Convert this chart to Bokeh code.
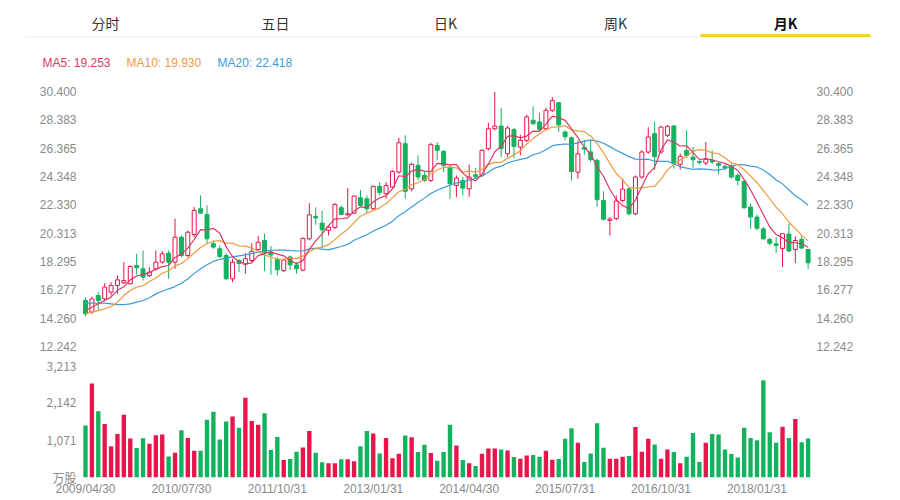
from bokeh.plotting import figure
from bokeh.models import Range1d, LinearAxis, FixedTicker, ColumnDataSource, NumeralTickFormatter
from bokeh.core.properties import value
from bokeh.embed import file_html
from bokeh.resources import INLINE
import pandas as pd

# ---------------- data ----------------
tabs = ["分时", "五日", "日K", "周K", "月K"]
active_tab = "月K"
ma_names = ["MA5", "MA10", "MA20"]
ma_last = [19.253, 19.930, 22.418]

opens = [15.52, 14.69, 15.87, 15.63, 16.11, 16.59, 16.78, 16.71, 18.01, 17.77,
         17.30, 17.77, 18.25, 18.89, 18.25, 20.03, 18.72, 20.22, 22.05, 21.65,
         19.56, 19.20, 18.72, 17.06, 18.37, 18.10, 18.37, 19.15, 19.79, 18.96,
         18.45, 17.65, 18.62, 18.05, 17.68, 19.91, 21.51, 21.03, 20.52, 20.72,
         22.12, 21.62, 21.74, 22.83, 22.76, 22.05, 23.65, 23.12, 23.59, 24.66,
         26.68, 23.47, 25.14, 24.43, 24.07, 26.56, 26.14, 25.02, 23.71, 24.07,
         23.47, 24.47, 24.43, 26.33, 27.75, 27.94, 25.97, 27.68, 26.44, 26.92,
         28.35, 28.23, 27.75, 29.06, 29.60, 27.52, 27.10, 24.65, 26.40, 26.10,
         25.50, 22.64, 21.22, 21.35, 22.64, 23.47, 21.69, 24.31, 26.09, 27.40,
         26.09, 27.28, 27.95, 25.21, 26.21, 25.73, 25.42, 25.31, 25.50, 25.26,
         25.07, 25.07, 24.43, 24.00, 22.17, 21.46, 20.62, 19.86, 19.55, 19.22,
         20.25, 19.15, 19.86, 19.15]
highs = [15.75, 15.80, 16.11, 16.75, 16.82, 17.30, 18.25, 18.01, 18.84, 19.08,
         17.89, 19.08, 19.03, 19.08, 21.34, 20.15, 20.50, 22.17, 23.00, 22.29,
         19.79, 19.44, 18.89, 18.49, 18.49, 18.90, 19.60, 20.10, 20.27, 19.40,
         18.60, 18.49, 18.72, 18.25, 20.00, 22.45, 22.15, 21.90, 20.86, 22.45,
         22.29, 23.52, 23.00, 23.40, 23.00, 23.71, 23.95, 23.95, 24.78, 27.11,
         27.28, 25.33, 25.85, 24.71, 26.75, 26.80, 26.21, 25.14, 24.43, 24.31,
         25.19, 24.95, 26.28, 28.18, 30.37, 29.23, 27.94, 27.80, 27.33, 28.75,
         29.35, 28.88, 29.25, 30.01, 29.65, 27.63, 27.20, 26.92, 26.95, 26.92,
         25.60, 23.29, 21.46, 23.00, 24.20, 23.59, 24.43, 26.21, 27.85, 28.25,
         27.95, 28.00, 27.99, 26.00, 27.63, 26.45, 25.50, 26.80, 26.21, 25.38,
         25.21, 25.26, 24.55, 24.12, 22.41, 21.65, 20.74, 19.98, 20.03, 20.31,
         20.98, 20.08, 20.12, 19.20]
lows = [14.38, 14.57, 14.80, 15.47, 15.87, 15.99, 16.70, 16.66, 17.37, 16.94,
        17.18, 17.65, 18.13, 17.06, 17.77, 18.60, 18.60, 20.03, 21.69, 19.56,
        19.20, 18.56, 16.99, 16.82, 17.54, 17.42, 18.25, 19.08, 17.60, 17.35,
        17.30, 17.54, 17.70, 17.42, 17.60, 19.80, 20.90, 19.25, 20.15, 20.62,
        21.58, 21.55, 21.69, 22.22, 21.69, 21.93, 23.00, 22.76, 23.47, 24.54,
        22.76, 23.29, 24.07, 23.95, 23.95, 25.50, 24.66, 22.76, 22.88, 23.00,
        22.88, 24.19, 24.31, 26.21, 27.63, 25.73, 25.73, 25.66, 25.85, 26.80,
        28.00, 27.60, 27.63, 28.94, 27.51, 26.92, 24.07, 24.19, 25.90, 25.38,
        22.20, 21.22, 20.15, 21.22, 22.52, 21.58, 21.60, 24.19, 25.97, 24.80,
        25.97, 27.16, 24.90, 24.83, 25.69, 24.97, 25.20, 25.14, 25.26, 24.50,
        24.78, 24.19, 23.71, 22.05, 20.62, 20.50, 19.84, 19.44, 18.89, 17.89,
        18.96, 18.18, 19.20, 17.77]
closes = [14.57, 15.63, 15.52, 16.47, 16.59, 16.99, 16.94, 17.94, 17.85, 17.18,
          17.54, 18.25, 18.84, 18.25, 20.03, 18.72, 20.38, 21.93, 21.74, 19.91,
          19.32, 18.65, 17.06, 18.25, 18.15, 18.49, 19.02, 19.67, 18.96, 18.76,
          17.70, 18.40, 18.05, 17.77, 19.95, 21.62, 21.40, 20.55, 20.74, 22.36,
          21.65, 21.70, 22.95, 22.29, 22.05, 23.64, 23.20, 23.71, 24.71, 26.75,
          23.29, 25.21, 24.31, 24.07, 26.61, 26.21, 25.14, 23.83, 24.24, 23.52,
          24.31, 24.33, 26.21, 27.75, 27.94, 26.33, 27.80, 26.49, 26.92, 28.59,
          28.11, 27.70, 29.06, 29.75, 28.02, 27.18, 24.70, 25.96, 26.30, 25.56,
          22.70, 21.30, 21.32, 22.60, 23.45, 21.69, 24.31, 26.09, 27.16, 25.76,
          27.87, 27.92, 25.26, 25.78, 25.85, 25.54, 25.35, 25.57, 25.38, 25.14,
          24.97, 24.31, 24.07, 22.12, 21.46, 20.67, 19.91, 19.60, 19.44, 20.27,
          19.05, 19.79, 19.25, 18.20]
volumes = [1469, 2650, 1870, 1507, 884, 1228, 1767, 1097, 828, 1107,
           949, 1190, 1209, 595, 698, 1330, 1116, 753, 753, 1628,
           1851, 1070, 1581, 1720, 1404, 2251, 1590, 1488, 1814, 772,
           1144, 493, 521, 725, 846, 1311, 698, 428, 400, 400,
           512, 512, 456, 884, 1311, 1237, 679, 1116, 540, 670,
           1181, 1135, 716, 921, 688, 474, 716, 1488, 902, 493,
           400, 326, 670, 819, 819, 791, 763, 577, 530, 623,
           633, 586, 754, 502, 521, 1089, 1386, 977, 437, 679,
           1530, 838, 530, 530, 587, 605, 1425, 727, 1089, 930,
           530, 791, 717, 400, 587, 1257, 438, 977, 1228, 1209,
           791, 660, 567, 1405, 1116, 1051, 2744, 1274, 977, 1432,
           1116, 1646, 995, 1097]

# moving-average values at the start of the chart (history before the first month)
ma5_head = [14.80, 15.04, 15.28, 15.52]
ma10_head = [14.57, 14.69, 14.80, 14.92, 15.09, 15.40, 15.87, 16.23, 16.47]
ma20_head = [15.33, 15.33, 15.33, 15.33, 15.28, 15.23, 15.23, 15.28, 15.40, 15.52,
             15.71, 15.99, 16.18, 16.35, 16.51, 16.75, 17.05, 17.45, 17.78]

price_ticks = [12.242, 14.260, 16.277, 18.295, 20.313, 22.330, 24.348, 26.365, 28.383, 30.400]
vol_ticks = [0, 1071, 2142, 3213]
vol_unit = "万股"
date_ticks = [0, 15, 30, 45, 60, 75, 90, 105]
date_labels = ["2009/04/30", "2010/07/30", "2011/10/31", "2013/01/31",
               "2014/04/30", "2015/07/31", "2016/10/31", "2018/01/31"]

# ---------------- derived ----------------
n = len(closes)
idx = list(range(n))
s = pd.Series(closes)


def moving_avg(win, head):
    m = s.rolling(win).mean().tolist()
    return [head[i] if i < len(head) else m[i] for i in range(n)]


ma5 = moving_avg(5, ma5_head)
ma10 = moving_avg(10, ma10_head)
ma20 = moving_avg(20, ma20_head)

RED = "#e6154a"
GREEN = "#14b25e"
C_MA5 = "#d93a63"
C_MA10 = "#f09a3c"
C_MA20 = "#3d9bd9"
LABEL = "#8a8a8a"
NUMFONT = "Liberation Sans"
CJK = "Noto Sans CJK SC"

up = [c >= o for o, c in zip(opens, closes)]
src = ColumnDataSource(dict(
    x=idx, high=highs, low=lows,
    top=[max(o, c) for o, c in zip(opens, closes)],
    bottom=[min(o, c) for o, c in zip(opens, closes)],
    color=[RED if u else GREEN for u in up],
    fill=["#ffffff" if u else GREEN for u in up],
    vol=volumes,
))

W = 900
XR = (-0.78, 113.53)


def base(height, **kw):
    p = figure(width=W, height=height, output_backend="svg", toolbar_location=None,
               min_border_left=80, min_border_right=89, **kw)
    p.xgrid.visible = False
    p.ygrid.visible = False
    p.outline_line_color = None
    p.background_fill_color = "white"
    p.border_fill_color = "white"
    return p


def style_axis(ax, font=NUMFONT):
    ax.axis_line_color = None
    ax.major_tick_line_color = None
    ax.minor_tick_line_color = None
    ax.major_tick_out = 0
    ax.major_tick_in = 0
    ax.major_label_text_color = LABEL
    ax.major_label_text_font = font
    ax.major_label_text_font_size = "12px"


# ---------------- header (page pixel coordinates) ----------------
hdr = figure(width=W, height=80, output_backend="svg", toolbar_location=None,
             x_range=Range1d(0, W), y_range=Range1d(80, 0),
             x_axis_location=None, y_axis_location=None, min_border=0)
hdr.xgrid.visible = False
hdr.ygrid.visible = False
hdr.outline_line_color = None
tab_x = [105 + 170 * i for i in range(len(tabs))]
hdr.segment(x0=[25], y0=[36.5], x1=[870], y1=[36.5], line_color="#ededed", line_width=1)
ai = tabs.index(active_tab)
hdr.segment(x0=[tab_x[ai] - 85], y0=[35], x1=[tab_x[ai] + 85], y1=[35],
            line_color="#f6d12c", line_width=3)
others = [i for i in range(len(tabs)) if i != ai]
hdr.text(x=[tab_x[i] for i in others], y=[22] * len(others), text=[tabs[i] for i in others],
         text_align="center", text_baseline="middle", text_color="#333333",
         text_font=value(CJK), text_font_size="14px")
hdr.text(x=[tab_x[ai]], y=[22], text=[active_tab], text_align="center", text_baseline="middle",
         text_color="#111111", text_font=value(CJK), text_font_size="14px", text_font_style="bold")
leg_x = [42, 126, 217]
leg_c = [C_MA5, C_MA10, C_MA20]
hdr.text(x=leg_x, y=[62] * 3, text=[f"{nm}: {v:.3f}" for nm, v in zip(ma_names, ma_last)],
         text_align="left", text_baseline="middle", text_color=leg_c,
         text_font=value(NUMFONT), text_font_size="12px")

# ---------------- price ----------------
price = base(276, x_range=Range1d(*XR), y_range=Range1d(price_ticks[0], price_ticks[-1]),
             x_axis_location=None, min_border_top=11, min_border_bottom=10)
price.segment(x0="x", y0="high", x1="x", y1="low", line_color="color", line_width=1, source=src)
price.vbar(x="x", width=0.62, top="top", bottom="bottom", fill_color="fill",
           line_color="color", line_width=1, source=src)
price.line(idx, ma20, line_color=C_MA20, line_width=1.2)
price.line(idx, ma10, line_color=C_MA10, line_width=1.2)
price.line(idx, ma5, line_color=C_MA5, line_width=1.2)
price.yaxis.ticker = FixedTicker(ticks=price_ticks)
price.yaxis.formatter = NumeralTickFormatter(format="0.000")
price.yaxis.major_label_standoff = 4
style_axis(price.yaxis[0])
rax = LinearAxis(ticker=FixedTicker(ticks=price_ticks), formatter=NumeralTickFormatter(format="0.000"))
rax.major_label_standoff = 5
style_axis(rax)
price.add_layout(rax, "right")

# ---------------- volume ----------------
vol = base(142, x_range=price.x_range, y_range=Range1d(0, vol_ticks[-1]),
           min_border_top=7, min_border_bottom=20)
vol.vbar(x="x", width=0.68, top="vol", bottom=0, fill_color="color", line_color=None, source=src)
vol.yaxis.ticker = FixedTicker(ticks=vol_ticks)
vol.yaxis.formatter = NumeralTickFormatter(format="0,0")
vol.yaxis.major_label_overrides = {0: vol_unit}
vol.yaxis.major_label_standoff = 4
style_axis(vol.yaxis[0], CJK)
vol.xaxis.ticker = FixedTicker(ticks=date_ticks)
vol.xaxis.major_label_overrides = {t: l for t, l in zip(date_ticks, date_labels)}
vol.xaxis.major_label_standoff = 4
style_axis(vol.xaxis[0])

open("out.html", "w").write(file_html([hdr, price, vol], INLINE))
